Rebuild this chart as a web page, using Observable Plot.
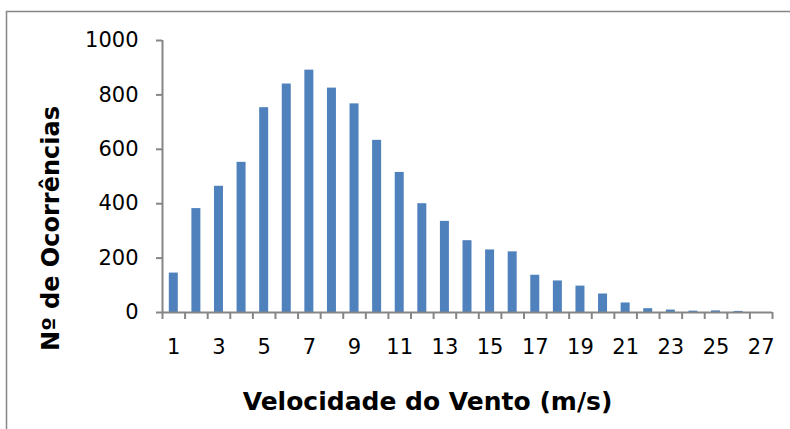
<!DOCTYPE html>
<html>
<head>
<meta charset="utf-8">
<script src="https://cdn.jsdelivr.net/npm/d3@7"></script>
<script src="https://cdn.jsdelivr.net/npm/@observablehq/plot@0.6"></script>
<style>
  html, body { margin: 0; padding: 0; background: #fff; overflow: hidden; }
  #chart svg { display: block; }
</style>
</head>
<body>
<div id="chart"></div>
<script>
// Data
const speeds = [1,2,3,4,5,6,7,8,9,10,11,12,13,14,15,16,17,18,19,20,21,22,23,24,25,26,27];
const counts = [145,382,464,552,753,840,891,825,767,633,515,400,335,264,230,223,137,116,97,68,35,14,9,5,6,4,0];
const xTickLabels = [1,3,5,7,9,11,13,15,17,19,21,23,25,27];
const yTicks = [0,200,400,600,800,1000];
const xTitle = "Velocidade do Vento (m/s)";
const yTitle = "Nº de Ocorrências";

const rows = speeds.map((v, i) => ({v, n: counts[i]}));
const boundaries = [...speeds.map(v => v - 0.5), speeds[speeds.length - 1] + 0.5];

const axisGray = "#868686";
const barBlue = "#4f81bd";
const tickFont = "'DejaVu Sans', sans-serif";
const titleFont = "'DejaVu Sans', sans-serif";

const chart = Plot.plot({
  width: 790,
  height: 429,
  marginLeft: 162,
  marginRight: 18,
  marginTop: 40,
  marginBottom: 117,
  style: {fontFamily: tickFont, background: "#fff"},
  x: {domain: [0.5, 27.5]},
  y: {domain: [0, 1000]},
  marks: [
    Plot.frame({stroke: axisGray, strokeWidth: 1.5, insetLeft: -156, insetTop: -29, insetRight: -40, insetBottom: -200}),
    Plot.rectY(rows, {x1: d => d.v - 0.5, x2: d => d.v + 0.5, y: "n", fill: barBlue, insetLeft: 6.8, insetRight: 6.8}),
    Plot.ruleY([0], {stroke: axisGray, strokeWidth: 2}),
    Plot.ruleX([0.5], {y1: 0, y2: 1000, stroke: axisGray, strokeWidth: 2}),
    Plot.axisY({ticks: yTicks, tickSize: 6, tickPadding: 18, tickFormat: d3.format("d"), stroke: axisGray, strokeWidth: 2, fill: "#000", fontSize: 21, fontFamily: tickFont, label: null}),
    Plot.axisX({ticks: boundaries, tickSize: 7, tickFormat: () => "", stroke: axisGray, strokeWidth: 2, label: null}),
    Plot.axisX({ticks: xTickLabels, tickSize: 0, tickPadding: 27, tickFormat: d3.format("d"), fill: "#000", fontSize: 21, fontFamily: tickFont, label: null}),
    Plot.text([yTitle], {frameAnchor: "left", textAnchor: "middle", lineAnchor: "middle", rotate: -90, dx: -111, dy: 52, fontSize: 24, fontWeight: "bold", fontFamily: titleFont, fill: "#000"}),
    Plot.text([xTitle], {frameAnchor: "bottom", textAnchor: "middle", lineAnchor: "middle", dx: -40, dy: 89, fontSize: 25, fontWeight: "bold", fontFamily: titleFont, fill: "#000"})
  ]
});
document.getElementById("chart").appendChild(chart);
</script>
</body>
</html>
